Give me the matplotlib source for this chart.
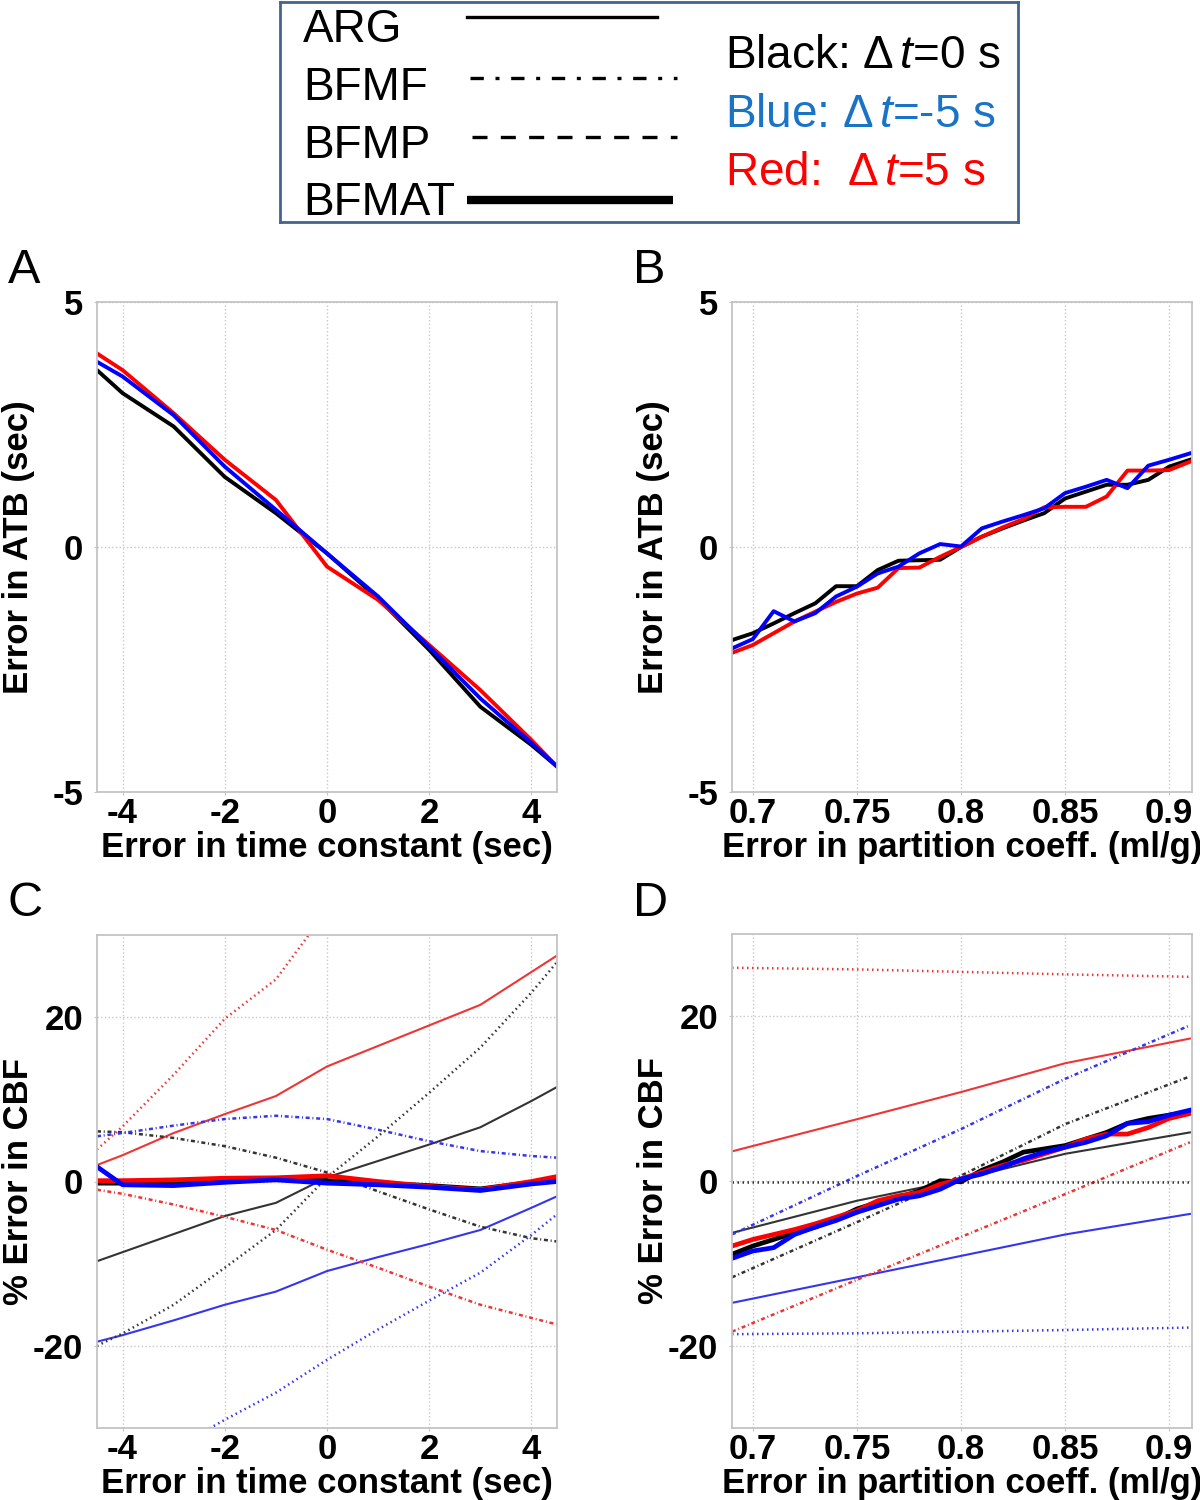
import matplotlib.pyplot as plt

plt.rcParams['font.family'] = 'Liberation Sans'
plt.rcParams['mathtext.fontset'] = 'custom'
plt.rcParams['mathtext.rm'] = 'Liberation Sans'
plt.rcParams['mathtext.it'] = 'Liberation Sans:italic'

# x values
tc = [-4.5, -4, -3, -2, -1, 0, 1, 2, 3, 4, 4.5]          # error in time constant (sec)
pc = [0.69, 0.70, 0.71, 0.72, 0.73, 0.74, 0.75, 0.76, 0.77, 0.78, 0.79, 0.80,
      0.81, 0.82, 0.83, 0.84, 0.85, 0.86, 0.87, 0.88, 0.89, 0.90, 0.91]  # partition coeff.
pc5 = [0.69, 0.75, 0.80, 0.85, 0.91]

# A: error in ATB vs time constant
atb_tc_black = [3.61, 3.14, 2.46, 1.43, 0.69, -0.13, -1.05, -2.10, -3.26, -4.04, -4.48]
atb_tc_red = [3.95, 3.61, 2.73, 1.78, 0.96, -0.40, -1.08, -2.00, -2.92, -3.94, -4.48]
atb_tc_blue = [3.78, 3.48, 2.69, 1.64, 0.76, -0.13, -1.01, -2.04, -3.09, -4.00, -4.48]

# B: error in ATB vs partition coeff.
atb_pc_black = [-1.90, -1.76, -1.56, -1.35, -1.15, -0.80, -0.80, -0.47, -0.28, -0.27, -0.26, 0.00,
                0.21, 0.38, 0.54, 0.69, 0.99, 1.13, 1.27, 1.27, 1.37, 1.64, 1.78]
atb_pc_red = [-2.16, -2.00, -1.76, -1.52, -1.32, -1.12, -0.95, -0.83, -0.43, -0.42, -0.20, 0.00,
              0.21, 0.40, 0.57, 0.81, 0.82, 0.82, 1.03, 1.56, 1.56, 1.57, 1.74]
atb_pc_blue = [-2.07, -1.88, -1.31, -1.52, -1.35, -1.01, -0.81, -0.54, -0.40, -0.13, 0.06, 0.01,
               0.38, 0.52, 0.65, 0.79, 1.10, 1.23, 1.37, 1.20, 1.66, 1.78, 1.91]

# C: % error in CBF vs time constant
arg_black_c = [-9.7, -8.6, -6.4, -4.2, -2.6, 0.5, 2.5, 4.5, 6.6, 9.8, 11.5]
arg_blue_c = [-19.5, -18.7, -16.9, -15.0, -13.4, -10.9, -9.2, -7.6, -5.9, -3.2, -1.8]
arg_red_c = [2.0, 3.2, 5.9, 8.2, 10.4, 14.0, 16.5, 19.0, 21.5, 25.5, 27.5]
bfmf_black_c = [6.1, 6.0, 5.3, 4.3, 2.9, 1.1, -1.2, -3.4, -5.5, -6.9, -7.3]
bfmf_blue_c = [5.5, 5.9, 6.8, 7.6, 8.0, 7.6, 6.3, 4.9, 3.7, 3.1, 2.9]
bfmf_red_c = [-1.0, -1.5, -2.8, -4.3, -5.9, -8.3, -10.5, -12.8, -15.0, -16.6, -17.4]
bfmp_black_c = [-20.0, -18.5, -15.0, -10.5, -5.9, 0.5, 5.5, 10.8, 16.3, 23.0, 26.7]
bfmp_blue_c = [-38.0, -36.0, -32.5, -29.0, -25.7, -21.7, -18.0, -14.5, -11.1, -6.5, -4.0]
bfmp_red_c = [3.9, 6.7, 13.0, 19.8, 24.6, 33.0, 42.0]   # runs off the top after x=-0.6
bfmat_black_c = [-0.2, -0.2, -0.1, 0.2, 0.3, 0.1, -0.2, -0.5, -0.9, -0.1, 0.2]
bfmat_red_c = [0.1, 0.1, 0.2, 0.4, 0.45, 0.7, 0.0, -0.6, -1.0, 0.0, 0.6]
bfmat_blue_c = [1.8, -0.4, -0.5, -0.1, 0.2, -0.2, -0.4, -0.7, -1.1, -0.3, 0.0]

# D: % error in CBF vs partition coeff.
arg_black_d = [-6.3, -2.4, 0.2, 3.3, 5.9]
arg_blue_d = [-14.8, -11.7, -9.1, -6.5, -4.0]
arg_red_d = [3.6, 7.5, 10.8, 14.3, 17.3]
bfmf_black_d = [-11.7, -5.0, 0.65, 6.9, 12.7]
bfmf_blue_d = [-6.5, 0.6, 6.3, 12.4, 18.9]
bfmf_red_d = [-18.3, -12.0, -6.8, -1.6, 4.7]
bfmp_black_d = [-0.1, -0.1, -0.1, -0.1, -0.1]
bfmp_blue_d = [-18.6, -18.5, -18.3, -18.1, -17.8]
bfmp_red_d = [25.9, 25.7, 25.4, 25.1, 24.8]
bfmat_black_d = [-8.9, -7.9, -7.1, -6.3, -5.6, -4.6, -3.4, -2.6, -2.0, -1.2, 0.04, -0.1,
                 1.3, 2.3, 3.5, 3.9, 4.3, 5.1, 5.9, 7.0, 7.6, 8.0, 8.4]
bfmat_red_d = [-7.9, -7.1, -6.5, -5.9, -5.2, -4.4, -3.6, -2.4, -1.8, -1.4, -0.4, 0.24,
               1.06, 1.9, 2.5, 3.3, 4.1, 5.1, 5.7, 5.7, 6.5, 7.6, 8.2]
bfmat_blue_d = [-9.4, -8.5, -8.1, -6.5, -5.6, -4.8, -3.8, -3.0, -2.2, -1.8, -1.0, 0.24,
                0.85, 1.7, 2.7, 3.5, 4.1, 4.7, 5.5, 7.0, 7.2, 8.0, 8.6]

thin = {'k': '#333333', 'b': '#3535ee', 'r': '#ee3535'}
thick = {'k': '#000000', 'b': '#0000ff', 'r': '#ff0000'}
BFMF = (0, (1.6, 1.1, 0.4, 1.1))
BFMP = (0, (0.6, 1.4))

fig = plt.figure(figsize=(12, 15), dpi=100)
W, H = 1200, 1500


def make_ax(left, top, w, h):
    return fig.add_axes([left / W, 1 - (top + h) / H, w / W, h / H])


def style(ax, xlim, ylim, xt, xtl, yt, xlabel, ylabel):
    ax.set_xlim(xlim)
    ax.set_ylim(ylim)
    ax.set_xticks(xt)
    ax.set_xticklabels(xtl, fontweight='bold')
    ax.set_yticks(yt)
    ax.set_yticklabels([str(v) for v in yt], fontweight='bold')
    for sp in ax.spines.values():
        sp.set_color('#c4c4c4')
        sp.set_linewidth(1.3)
    ax.grid(True, ls=':', color='#c8c8c8', lw=1)
    ax.set_axisbelow(True)
    ax.tick_params(length=2, color='#c4c4c4', labelsize=25)
    ax.tick_params(axis='y', pad=8)
    ax.tick_params(axis='x', pad=1.5)
    ax.set_xlabel(xlabel, fontsize=25, fontweight='bold', labelpad=1)
    ax.set_ylabel(ylabel, fontsize=25, fontweight='bold')
    ax.yaxis.set_label_coords(-0.135, 0.5)


tc_ticks = [-4, -2, 0, 2, 4]
pc_ticks = [0.7, 0.75, 0.8, 0.85, 0.9]
pc_labels = ['0.7', '0.75', '0.8', '0.85', '0.9']

# A
axA = make_ax(97, 302, 460, 490)
axA.plot(tc, atb_tc_black, color=thick['k'], lw=2.8)
axA.plot(tc, atb_tc_red, color=thick['r'], lw=2.8)
axA.plot(tc, atb_tc_blue, color=thick['b'], lw=2.8)
style(axA, (-4.5, 4.5), (-5, 5), tc_ticks, [str(v) for v in tc_ticks], [-5, 0, 5],
      'Error in time constant (sec)', 'Error in ATB (sec)')

# B
axB = make_ax(732, 302, 460, 490)
axB.plot(pc, atb_pc_black, color=thick['k'], lw=2.8)
axB.plot(pc, atb_pc_red, color=thick['r'], lw=2.8)
axB.plot(pc, atb_pc_blue, color=thick['b'], lw=2.8)
style(axB, (0.69, 0.911), (-5, 5), pc_ticks, pc_labels, [-5, 0, 5],
      'Error in partition coeff. (ml/g)', 'Error in ATB (sec)')

# C
axC = make_ax(97, 935, 460, 493)
axC.plot(tc, arg_black_c, color=thin['k'], lw=1.5)
axC.plot(tc, arg_blue_c, color=thin['b'], lw=1.5)
axC.plot(tc, arg_red_c, color=thin['r'], lw=1.5)
axC.plot(tc, bfmf_black_c, color=thin['k'], lw=1.8, ls=BFMF)
axC.plot(tc, bfmf_blue_c, color=thin['b'], lw=1.8, ls=BFMF)
axC.plot(tc, bfmf_red_c, color=thin['r'], lw=1.8, ls=BFMF)
axC.plot(tc, bfmp_black_c, color=thin['k'], lw=1.8, ls=BFMP)
axC.plot(tc, bfmp_blue_c, color=thin['b'], lw=1.8, ls=BFMP)
axC.plot(tc[:len(bfmp_red_c)], bfmp_red_c, color=thin['r'], lw=1.8, ls=BFMP)
axC.plot(tc, bfmat_black_c, color=thick['k'], lw=3.4)
axC.plot(tc, bfmat_red_c, color=thick['r'], lw=3.4)
axC.plot(tc, bfmat_blue_c, color=thick['b'], lw=3.4)
style(axC, (-4.5, 4.5), (-30, 30), tc_ticks, [str(v) for v in tc_ticks], [-20, 0, 20],
      'Error in time constant (sec)', '% Error in CBF')

# D
axD = make_ax(732, 934, 460, 494)
axD.plot(pc5, arg_black_d, color=thin['k'], lw=1.5)
axD.plot(pc5, arg_blue_d, color=thin['b'], lw=1.5)
axD.plot(pc5, arg_red_d, color=thin['r'], lw=1.5)
axD.plot(pc5, bfmf_black_d, color=thin['k'], lw=1.8, ls=BFMF)
axD.plot(pc5, bfmf_blue_d, color=thin['b'], lw=1.8, ls=BFMF)
axD.plot(pc5, bfmf_red_d, color=thin['r'], lw=1.8, ls=BFMF)
axD.plot(pc5, bfmp_black_d, color=thin['k'], lw=1.8, ls=BFMP)
axD.plot(pc5, bfmp_blue_d, color=thin['b'], lw=1.8, ls=BFMP)
axD.plot(pc5, bfmp_red_d, color=thin['r'], lw=1.8, ls=BFMP)
axD.plot(pc, bfmat_black_d, color=thick['k'], lw=3.4)
axD.plot(pc, bfmat_red_d, color=thick['r'], lw=3.4)
axD.plot(pc, bfmat_blue_d, color=thick['b'], lw=3.4)
style(axD, (0.69, 0.911), (-30, 30), pc_ticks, pc_labels, [-20, 0, 20],
      'Error in partition coeff. (ml/g)', '% Error in CBF')

# panel letters
for letter, x, y in [('A', 8, 283), ('B', 633, 283), ('C', 8, 916), ('D', 633, 916)]:
    fig.text(x / W, 1 - y / H, letter, fontsize=35, va='baseline')

# legend box
lax = make_ax(280, 2, 738, 220)
lax.set_xlim(280, 1018)
lax.set_ylim(222, 2)
lax.set_xticks([])
lax.set_yticks([])
for sp in lax.spines.values():
    sp.set_color('#44648f')
    sp.set_linewidth(2)

names = ['ARG', 'BFMF', 'BFMP', 'BFMAT']
name_y = [42, 100, 158, 215]
for n, y in zip(names, name_y):
    lax.text(303, y, n, fontsize=33, va='baseline')
lax.plot([467, 657], [17, 17], color='k', lw=2.4)
lax.plot([470, 677], [78, 78], color='k', lw=2.4, ls=(0, (4.0, 3.5, 1.2, 3.5)))
lax.plot([472, 677], [137, 137], color='k', lw=2.4, ls=(0, (4.5, 4.0)))
lax.plot([467, 673], [200, 200], color='k', lw=6, solid_capstyle='butt')

lax.text(725, 68, r'Black: $\Delta\, \mathit{t}$=0 s', fontsize=33, color='#000000', va='baseline')
lax.text(725, 127, r'Blue: $\Delta\, \mathit{t}$=-5 s', fontsize=33, color='#1a74c6', va='baseline')
lax.text(725, 185, r'Red:  $\Delta\, \mathit{t}$=5 s', fontsize=33, color='#ff0000', va='baseline')

fig.savefig('out.png', dpi=100)
